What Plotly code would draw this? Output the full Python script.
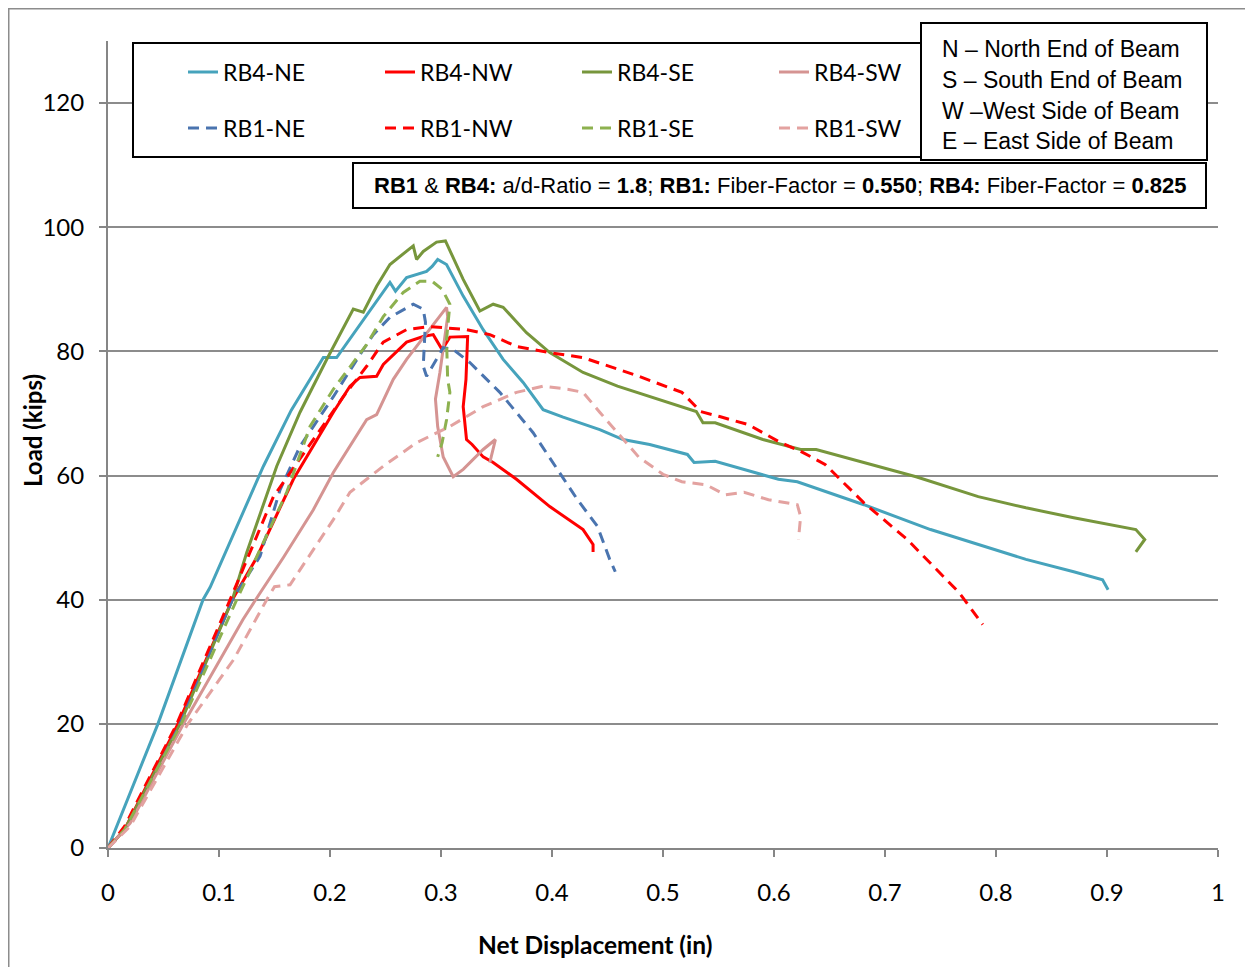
import plotly.graph_objects as go

# ---------------- data ----------------
rb4_ne_x = [0, 0.0135, 0.045, 0.0856, 0.092, 0.140, 0.165, 0.194, 0.206, 0.254, 0.259, 0.269, 0.287, 0.292, 0.297, 0.305,
            0.320, 0.338, 0.356, 0.374, 0.392, 0.410, 0.443, 0.464, 0.488, 0.522, 0.528, 0.547, 0.604, 0.621, 0.681,
            0.741, 0.784, 0.827, 0.870, 0.896, 0.901]
rb4_ne_y = [0, 6, 20, 40, 42, 61.5, 70.5, 79, 79, 91.1, 89.7, 91.9, 92.9, 93.7, 94.8, 94,
            88.9, 83.5, 78.7, 75, 70.6, 69.4, 67.4, 65.8, 65.0, 63.4, 62.1, 62.3, 59.4, 59.0, 55.3,
            51.3, 48.9, 46.5, 44.5, 43.2, 41.6]

rb4_nw_x = [0, 0.015, 0.063, 0.112, 0.134, 0.167, 0.203, 0.218, 0.227, 0.242, 0.248, 0.269, 0.284, 0.293, 0.301,
            0.308, 0.324, 0.3225, 0.320, 0.323, 0.328, 0.338, 0.347, 0.368, 0.398, 0.428, 0.437, 0.437]
rb4_nw_y = [0, 3, 20, 40, 46.8, 59.4, 70.2, 74.4, 75.8, 76, 77.9, 81.5, 82.4, 82.7, 80.3,
            82.3, 82.4, 75.5, 71.1, 65.8, 65, 63, 62.1, 59.4, 55, 51.3, 48.9, 47.7]

rb4_se_x = [0, 0.015, 0.065, 0.112, 0.125, 0.152, 0.173, 0.197, 0.221, 0.230, 0.242, 0.254, 0.275, 0.278, 0.284,
            0.296, 0.304, 0.320, 0.335, 0.347, 0.356, 0.377, 0.398, 0.428, 0.459, 0.488, 0.530, 0.536, 0.547,
            0.590, 0.624, 0.638, 0.681, 0.728, 0.784, 0.827, 0.870, 0.926, 0.934, 0.926]
rb4_se_y = [0, 3, 20, 40, 47.6, 61.5, 70.2, 78.7, 86.8, 86.3, 90.5, 94, 97, 94.8, 96.1,
            97.6, 97.8, 91.6, 86.5, 87.6, 87.1, 83, 79.8, 76.6, 74.4, 72.7, 70.3, 68.5, 68.5,
            65.8, 64.2, 64.2, 62.1, 59.8, 56.6, 54.8, 53.2, 51.3, 49.7, 47.7]

rb4_sw_x = [0, 0.02, 0.068, 0.1216, 0.133, 0.158, 0.185, 0.203, 0.233, 0.242, 0.257, 0.269, 0.305, 0.306, 0.299,
            0.295, 0.297, 0.302, 0.311, 0.320, 0.338, 0.349, 0.344]
rb4_sw_y = [0, 4, 20, 36.8, 40, 46.8, 54.5, 60.5, 69, 69.8, 75.5, 78.7, 87.1, 85.6, 76.6,
            72.3, 67.9, 63, 59.8, 61, 64.2, 65.8, 62.1]

rb1_ne_x = [0, 0.015, 0.064, 0.112, 0.137, 0.155, 0.173, 0.203, 0.230, 0.239, 0.254, 0.275, 0.284, 0.286, 0.284,
            0.287, 0.302, 0.311, 0.326, 0.353, 0.383, 0.405, 0.423, 0.441, 0.452, 0.457]
rb1_ne_y = [0, 3, 20, 40, 47, 57.7, 64.7, 72.7, 80.3, 82.7, 85.5, 87.6, 86.8, 84.7, 77.6,
            76, 80.6, 80.3, 78.2, 73.4, 66.9, 61, 56.1, 51.8, 46.5, 44.5]

rb1_nw_x = [0, 0.015, 0.062, 0.110, 0.149, 0.212, 0.233, 0.248, 0.269, 0.290, 0.323, 0.344, 0.368, 0.398, 0.428,
            0.459, 0.478, 0.517, 0.534, 0.551, 0.577, 0.604, 0.624, 0.646, 0.681, 0.720, 0.767, 0.788]
rb1_nw_y = [0, 3.5, 20, 40, 56.6, 72.7, 77.6, 81.5, 83.5, 84, 83.5, 82.7, 80.8, 79.8, 79,
            77.1, 76, 73.4, 70.3, 69.5, 68.2, 65.5, 63.9, 61.8, 55.6, 49.7, 41.1, 36]

rb1_se_x = [0, 0.015, 0.066, 0.116, 0.161, 0.182, 0.203, 0.233, 0.248, 0.266, 0.281, 0.292, 0.301, 0.308, 0.305,
            0.306, 0.308, 0.305, 0.301, 0.297]
rb1_se_y = [0, 3, 20, 40, 57.3, 67.9, 73.9, 81.1, 85.6, 89.5, 91.3, 91.3, 90, 87.6, 81.9,
            75.5, 73.4, 69, 65.3, 63]

rb1_sw_x = [0, 0.02, 0.072, 0.113, 0.143, 0.150, 0.164, 0.185, 0.203, 0.218, 0.233, 0.248, 0.263, 0.278, 0.308,
            0.338, 0.368, 0.392, 0.414, 0.428, 0.443, 0.459, 0.478, 0.500, 0.517, 0.539, 0.556, 0.573, 0.595,
            0.621, 0.624, 0.622]
rb1_sw_y = [0, 3.5, 20, 30.3, 40, 42.1, 42.4, 48, 52.9, 57.3, 59.4, 61.5, 63.4, 65.3, 67.9,
            71.1, 73.4, 74.4, 73.9, 73.4, 70.2, 66.9, 63, 60.2, 59, 58.5, 56.9, 57.3, 56.1,
            55.3, 53.4, 49.7]

series_names = ["RB4-NE", "RB4-NW", "RB4-SE", "RB4-SW", "RB1-NE", "RB1-NW", "RB1-SE", "RB1-SW"]
x_ticks = [0, 0.1, 0.2, 0.3, 0.4, 0.5, 0.6, 0.7, 0.8, 0.9, 1]
y_ticks = [0, 20, 40, 60, 80, 100, 120]
x_title = "Net Displacement (in)"
y_title = "Load (kips)"

note_lines = ["N \u2013 North End of Beam", "S \u2013 South End of Beam",
              "W \u2013West Side of Beam", "E \u2013 East Side of Beam"]
info_text = ("<b>RB1</b> &amp; <b>RB4:</b> a/d-Ratio = <b>1.8</b>; <b>RB1:</b> Fiber-Factor = <b>0.550</b>; "
             "<b>RB4:</b> Fiber-Factor = <b>0.825</b>")

# ---------------- layout geometry ----------------
S = 8                      # page body offset of the figure
W, H = 1237, 959           # figure size
ML, MT, PW, PH = 100, 33, 1110, 807
MR, MB = W - ML - PW, H - MT - PH


def fx(p):                 # screen x pixel -> paper x
    return (p - S - ML) / PW


def fy(p):                 # screen y pixel -> paper y
    return (S + MT + PH - p) / PH


colors = ["#46A3BC", "#FF0000", "#77963C", "#D59492", "#4A74AF", "#FF0000", "#8DB14F", "#E3A2A0"]
dashes = ["solid"] * 4 + ["11px,7px"] * 4
data = [(rb4_ne_x, rb4_ne_y), (rb4_nw_x, rb4_nw_y), (rb4_se_x, rb4_se_y), (rb4_sw_x, rb4_sw_y),
        (rb1_ne_x, rb1_ne_y), (rb1_nw_x, rb1_nw_y), (rb1_se_x, rb1_se_y), (rb1_sw_x, rb1_sw_y)]

FONT = "Lato, Carlito, Calibri, 'Open Sans', sans-serif"
NFONT = "'Liberation Sans Narrow', 'Arial Narrow', 'Liberation Sans', Arial, sans-serif"

fig = go.Figure()
for i, (name, (xs, ys)) in enumerate(zip(series_names, data)):
    fig.add_trace(go.Scatter(
        x=xs, y=ys, mode="lines", name=name,
        line=dict(color=colors[i], width=3, dash=dashes[i]),
        legend="legend" if i < 4 else "legend2",
        hoverinfo="x+y+name",
    ))

legend_common = dict(orientation="h", entrywidth=152, entrywidthmode="pixels",
                      font=dict(family=FONT, size=23, color="#000"),
                      bgcolor="rgba(0,0,0,0)", borderwidth=0,
                      xanchor="left", yanchor="middle", traceorder="normal")

fig.update_layout(
    width=W, height=H,
    margin=dict(l=ML, r=MR, t=MT, b=MB, autoexpand=False),
    paper_bgcolor="white", plot_bgcolor="white",
    font=dict(family=FONT, size=22, color="#000"),
    showlegend=True,
    legend=dict(legend_common, x=fx(183), y=fy(72)),
    legend2=dict(legend_common, x=fx(183), y=fy(128)),
    xaxis=dict(
        range=[0, 1], tickmode="array", tickvals=x_ticks, ticktext=[f"{v:g}" for v in x_ticks],
        showgrid=False, zeroline=False, showline=True, linecolor="#868686", linewidth=2,
        ticks="outside", ticklen=7, tickwidth=2, tickcolor="#868686",
        tickfont=dict(family=FONT, size=24, color="#000"), ticklabelstandoff=15,
    ),
    yaxis=dict(
        range=[0, 130], tickmode="array", tickvals=y_ticks, ticktext=[str(v) for v in y_ticks],
        showgrid=True, gridcolor="#8C8C8C", gridwidth=2, zeroline=False,
        showline=True, linecolor="#868686", linewidth=2,
        ticks="outside", ticklen=7, tickwidth=2, tickcolor="#868686",
        tickfont=dict(family=FONT, size=24, color="#000"), ticklabelstandoff=10,
    ),
)

shapes = [
    # outer chart border (left and top edges)
    dict(type="line", xref="paper", yref="paper", x0=fx(8.75), x1=fx(8.75), y0=fy(S + H), y1=fy(8),
         line=dict(color="#8C8C8C", width=1.5), layer="below"),
    dict(type="line", xref="paper", yref="paper", x0=fx(8), x1=fx(S + W), y0=fy(8.75), y1=fy(8.75),
         line=dict(color="#8C8C8C", width=1.5), layer="below"),
    # legend box
    dict(type="rect", xref="paper", yref="paper", x0=fx(133), x1=fx(921), y0=fy(157), y1=fy(43),
         line=dict(color="#000", width=2), fillcolor="white", layer="above"),
    # N/S/W/E box
    dict(type="rect", xref="paper", yref="paper", x0=fx(921), x1=fx(1207), y0=fy(160), y1=fy(23),
         line=dict(color="#000", width=2), fillcolor="white", layer="above"),
    # ratio info box
    dict(type="rect", xref="paper", yref="paper", x0=fx(353), x1=fx(1206), y0=fy(208), y1=fy(163),
         line=dict(color="#000", width=2), fillcolor="white", layer="above"),
]
fig.update_layout(shapes=shapes)

annotations = []
for txt, yc in zip(note_lines, [49, 80, 111, 141]):
    annotations.append(dict(text=txt, xref="paper", yref="paper", x=fx(940), y=fy(yc),
                            xanchor="left", yanchor="middle", showarrow=False,
                            font=dict(family=NFONT, size=23, color="#000")))
annotations.append(dict(text=info_text, xref="paper", yref="paper", x=fx(780), y=fy(186),
                        xanchor="center", yanchor="middle", showarrow=False,
                        font=dict(family=NFONT, size=22, color="#000")))
# axis titles
annotations.append(dict(text=f"<b>{x_title}</b>", xref="paper", yref="paper", x=fx(595), y=fy(944),
                        xanchor="center", yanchor="middle", showarrow=False,
                        font=dict(family=FONT, size=24.5, color="#000")))
annotations.append(dict(text=f"<b>{y_title}</b>", xref="paper", yref="paper", x=fx(32), y=fy(431),
                        xanchor="center", yanchor="middle", showarrow=False, textangle=-90,
                        font=dict(family=FONT, size=24, color="#000")))
fig.update_layout(annotations=annotations)

fig.write_html("out.html")
